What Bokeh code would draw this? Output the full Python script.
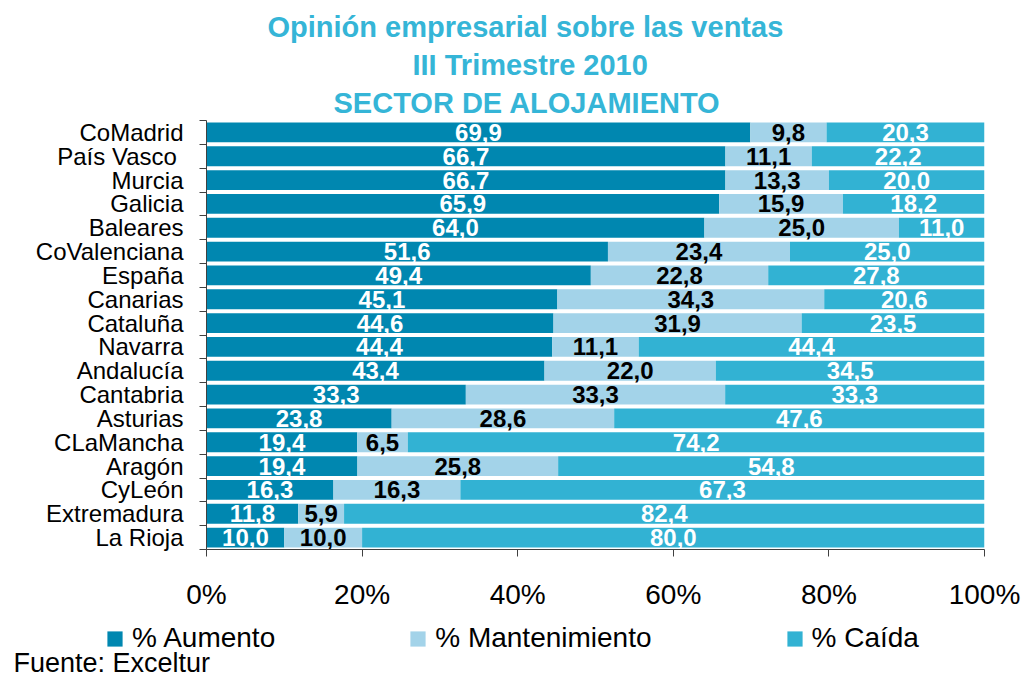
from bokeh.plotting import figure
from bokeh.models import (ColumnDataSource, FixedTicker, Legend, LegendItem,
                          Title, Range1d, Label)
from bokeh.core.properties import value
from bokeh.embed import file_html
from bokeh.resources import INLINE

# ---------------- data ----------------
regions = ["CoMadrid", "País Vasco ", "Murcia", "Galicia", "Baleares",
           "CoValenciana", "España", "Canarias", "Cataluña", "Navarra",
           "Andalucía", "Cantabria", "Asturias", "CLaMancha", "Aragón",
           "CyLeón", "Extremadura", "La Rioja"]
aumento = [69.9, 66.7, 66.7, 65.9, 64.0, 51.6, 49.4, 45.1, 44.6, 44.4,
           43.4, 33.3, 23.8, 19.4, 19.4, 16.3, 11.8, 10.0]
mantenimiento = [9.8, 11.1, 13.3, 15.9, 25.0, 23.4, 22.8, 34.3, 31.9, 11.1,
                 22.0, 33.3, 28.6, 6.5, 25.8, 16.3, 5.9, 10.0]
caida = [20.3, 22.2, 20.0, 18.2, 11.0, 25.0, 27.8, 20.6, 23.5, 44.4,
         34.5, 33.3, 47.6, 74.2, 54.8, 67.3, 82.4, 80.0]
series_names = ["% Aumento", "% Mantenimiento", "% Caída"]
x_ticks = [0, 20, 40, 60, 80, 100]
x_tick_labels = ["0%", "20%", "40%", "60%", "80%", "100%"]
title_lines = ["Opinión empresarial sobre las ventas", "III Trimestre 2010",
               "SECTOR DE ALOJAMIENTO"]
source_note = "Fuente:  Exceltur"

# ---------------- styling ----------------
colors = ["#0087b0", "#a3d3e9", "#32b2d3"]
label_colors = ["white", "black", "white"]
title_color = "#35b5d7"
axis_color = "#404040"
FONT = "Liberation Sans"

W = 1026
MAIN_H = 612
FOOT_H = 66
BL, BR = 206, 42

n = len(regions)
ypos = [n - 1 - i for i in range(n)]
series = [aumento, mantenimiento, caida]
totals = [a + m + c for a, m, c in zip(aumento, mantenimiento, caida)]

p = figure(width=W, height=MAIN_H,
           x_range=Range1d(0, 100), y_range=Range1d(-0.5, n - 0.5),
           output_backend="svg", toolbar_location=None,
           min_border_left=BL, min_border_right=BR, min_border_top=120,
           min_border_bottom=63, background_fill_color="white",
           border_fill_color="white")
p.outline_line_color = None
p.xgrid.visible = False
p.ygrid.visible = False

sources = []
cum = [0.0] * n
for k, vals in enumerate(series):
    left = [c / t * 100 for c, t in zip(cum, totals)]
    cum = [c + v for c, v in zip(cum, vals)]
    right = [c / t * 100 for c, t in zip(cum, totals)]
    mid = [(l + r) / 2 for l, r in zip(left, right)]
    txt = [f"{v:.1f}".replace(".", ",") for v in vals]
    src = ColumnDataSource(dict(y=ypos, left=left, right=right, mid=mid, txt=txt))
    sources.append(src)
    p.hbar(y="y", left="left", right="right", height=0.83, source=src,
           fill_color=colors[k], line_color=None)
    p.text(x="mid", y="y", text="txt", source=src, text_align="center",
           text_baseline="middle", text_color=label_colors[k],
           text_font=value(FONT), text_font_style="bold", text_font_size="24px")

# x axis
xa = p.xaxis[0]
xa.ticker = FixedTicker(ticks=x_ticks)
xa.major_label_overrides = {t: l for t, l in zip(x_ticks, x_tick_labels)}
xa.major_tick_out = 7
xa.major_tick_in = 0
xa.minor_tick_line_color = None
xa.axis_line_color = axis_color
xa.major_tick_line_color = axis_color
xa.major_label_text_font = FONT
xa.major_label_text_font_size = "28px"
xa.major_label_text_color = "black"
xa.major_label_standoff = 22

# y axis
ya = p.yaxis[0]
ya.ticker = FixedTicker(ticks=ypos, minor_ticks=[k - 0.5 for k in range(n + 1)])
ya.major_label_overrides = {y: name for y, name in zip(ypos, regions)}
ya.major_tick_line_color = None
ya.major_tick_out = 0
ya.major_tick_in = 0
ya.minor_tick_out = 7
ya.minor_tick_in = 0
ya.minor_tick_line_color = axis_color
ya.axis_line_color = axis_color
ya.major_label_text_font = FONT
ya.major_label_text_font_size = "24px"
ya.major_label_text_color = "black"
ya.major_label_standoff = 16

# titles (first added is closest to the plot)
offsets = [61, 206, 127]
for line, off in reversed(list(zip(title_lines, offsets))):
    p.add_layout(Title(text=line, align="left", offset=off, text_font=FONT,
                       text_font_size="29px", text_font_style="bold",
                       text_color=title_color, standoff=4), "above")

# ---------------- footer: legend + source (separate root) ----------------
f = figure(width=W, height=FOOT_H, x_range=Range1d(0, 100), y_range=Range1d(-0.5, n - 0.5),
           output_backend="svg", toolbar_location=None, min_border=0,
           min_border_left=0, min_border_right=0, min_border_top=0,
           min_border_bottom=0,
           background_fill_color="white", border_fill_color="white")
f.outline_line_color = None
f.xaxis.visible = False
f.yaxis.visible = False
f.grid.visible = False
leg_renderers = []
for k in range(3):
    leg_renderers.append(f.hbar(y="y", left="left", right="right", height=0.83,
                                source=sources[k], fill_color=colors[k],
                                line_color=None, visible=False))
legend = Legend(items=[LegendItem(label=nm, renderers=[r])
                       for nm, r in zip(series_names, leg_renderers)],
                orientation="horizontal", location=(105, 24),
                glyph_width=19, glyph_height=19, label_standoff=8, spacing=133,
                padding=0, margin=0, border_line_color=None,
                background_fill_alpha=0, inactive_fill_alpha=0,
                label_text_font=FONT, label_text_font_size="28px",
                label_text_color="black")
f.add_layout(legend, "center")
f.add_layout(Label(x=13, y=16, x_units="screen", y_units="screen", text=source_note,
                   text_font=FONT, text_font_size="27px", text_color="black",
                   text_baseline="alphabetic", text_align="left"))

open("out.html", "w").write(file_html([p, f], INLINE))
